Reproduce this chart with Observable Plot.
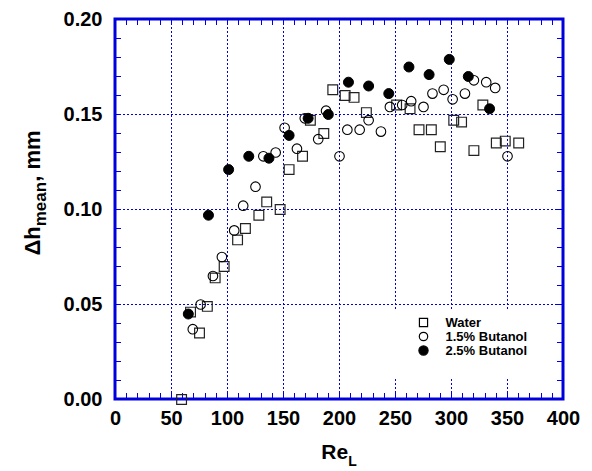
<!DOCTYPE html>
<html><head><meta charset="utf-8">
<script src="https://cdn.jsdelivr.net/npm/d3@7"></script>
<script src="https://cdn.jsdelivr.net/npm/@observablehq/plot@0.6"></script>
<style>html,body{margin:0;padding:0;background:#fff}#chart{width:592px;height:471px}</style>
</head><body><div id="chart"></div>
<script>
// ---- data ----
const waterRe = [59,67,75,82,89,97,109,116,128,135,147,155,167,174,186,194,205,213,224,251,263,271,282,290,302,309,320,328,340,348,360];
const waterDh = [0.000,0.046,0.035,0.049,0.064,0.070,0.084,0.090,0.097,0.104,0.100,0.121,0.128,0.147,0.140,0.163,0.160,0.159,0.151,0.155,0.153,0.142,0.142,0.133,0.147,0.146,0.131,0.155,0.135,0.136,0.135];
const but15Re = [69,76,87,95,106,114,125,132,143,151,162,169,181,188,200,207,218,226,237,245,256,264,275,283,293,301,312,320,331,339,350];
const but15Dh = [0.037,0.050,0.065,0.075,0.089,0.102,0.112,0.128,0.130,0.143,0.132,0.148,0.137,0.152,0.128,0.142,0.142,0.147,0.141,0.154,0.155,0.157,0.154,0.161,0.163,0.158,0.161,0.168,0.167,0.164,0.128];
const but25Re = [65,83,101,119,137,155,172,190,208,226,244,262,280,298,315,334];
const but25Dh = [0.045,0.097,0.121,0.128,0.127,0.139,0.148,0.150,0.167,0.165,0.161,0.175,0.171,0.179,0.170,0.153];
const seriesNames = ["Water", "1.5% Butanol", "2.5% Butanol"];
const xTicks = [0,50,100,150,200,250,300,350,400];
const yTicks = [0.00,0.05,0.10,0.15,0.20];
const xGrid = [50,100,150,200,250,300,350];
const yGrid = [0.05,0.10,0.15];
const xMinor = d3.range(0, 401, 10);
const yMinor = d3.range(0, 21).map(i => i / 100);

// ---- build ----
const toRows = (xs, ys, s) => xs.map((x, i) => ({Re: x, dh: ys[i], series: s}));
const water = toRows(waterRe, waterDh, seriesNames[0]);
const but15 = toRows(but15Re, but15Dh, seriesNames[1]);
const but25 = toRows(but25Re, but25Dh, seriesNames[2]);

const BLUE = "#0000dd";
const FONT = "'Liberation Sans', Arial, Helvetica, sans-serif";

function richLabel(parts, place) {
  return (index, scales, values, dims) => {
    const p = place(dims);
    const t = d3.create("svg:text")
      .attr("transform", `translate(${p.x},${p.y}) rotate(${p.rotate || 0})`)
      .attr("text-anchor", "middle")
      .attr("font-family", FONT)
      .attr("font-weight", "bold")
      .attr("fill", "black");
    for (const part of parts) {
      const ts = t.append("tspan").attr("font-size", part.size).text(part.text);
      if (part.dy) ts.attr("dy", part.dy);
    }
    return t.node();
  };
}

function line(g, x1, y1, x2, y2, w, dash) {
  const l = g.append("line").attr("x1", x1).attr("y1", y1).attr("x2", x2).attr("y2", y2)
    .attr("stroke", BLUE).attr("stroke-width", w).style("stroke", BLUE);
  if (dash) l.attr("stroke-dasharray", dash);
  return l;
}

// dotted grid lines through the x/y scales
function gridLines() {
  return (index, scales, values, dims) => {
    const L = dims.marginLeft, R = dims.width - dims.marginRight;
    const T = dims.marginTop, B = dims.height - dims.marginBottom;
    const px = v => Math.round(scales.x(v)) + 0.5;
    const py = v => Math.round(scales.y(v)) + 0.5;
    const g = d3.create("svg:g").attr("fill", "none");
    for (const v of xGrid) line(g, px(v), T, px(v), B, 1, "2,2");
    for (const v of yGrid) line(g, L, py(v), R, py(v), 1, "2,2");
    return g.node();
  };
}

// inward minor ticks on all four sides plus the blue frame
function frameAndTicks() {
  return (index, scales, values, dims) => {
    const L = dims.marginLeft, R = dims.width - dims.marginRight;
    const T = dims.marginTop, B = dims.height - dims.marginBottom;
    const px = v => Math.round(scales.x(v)) + 0.5;
    const py = v => Math.round(scales.y(v)) + 0.5;
    const g = d3.create("svg:g").attr("fill", "none");
    const len = 6;
    for (const v of xMinor) {
      line(g, px(v), B, px(v), B - len, 1);
      line(g, px(v), T, px(v), T + len, 1);
    }
    for (const v of yMinor) {
      line(g, L, py(v), L + len, py(v), 1);
      line(g, R, py(v), R - len, py(v), 1);
    }
    g.append("rect").attr("x", L).attr("y", T).attr("width", R - L).attr("height", B - T)
      .attr("fill", "none").attr("stroke", BLUE).attr("stroke-width", 3).style("stroke", BLUE);
    return g.node();
  };
}

function legendBox() {
  return (index, scales, values, dims) => {
    const right = dims.width - dims.marginRight;
    const bottom = dims.height - dims.marginBottom;
    return d3.create("svg:rect")
      .attr("x", right - 173).attr("y", bottom - 89)
      .attr("width", 165).attr("height", 67)
      .attr("fill", "white").node();
  };
}

const legendRows = [
  {name: seriesNames[0], symbol: "square", fill: "none", r: 4.6, dy: -77},
  {name: seriesNames[1], symbol: "circle", fill: "none", r: 4.2, dy: -63},
  {name: seriesNames[2], symbol: "circle", fill: "black", r: 4.6, dy: -49}
];

const legendMarks = legendRows.flatMap(row => [
  Plot.dot([row.name], {frameAnchor: "bottom-right", dx: -140, dy: row.dy, symbol: row.symbol, r: row.r,
    stroke: "black", strokeWidth: 1.2, fill: row.fill}),
  Plot.text([row.name], {frameAnchor: "bottom-right", dx: -118, dy: row.dy, text: d => d, textAnchor: "start",
    lineAnchor: "middle", fontSize: 13, fontWeight: "bold", fill: "black"})
]);

const chart = Plot.plot({
  width: 592, height: 471,
  marginLeft: 115, marginRight: 29, marginTop: 19, marginBottom: 72,
  x: {domain: [0, 400], axis: null},
  y: {domain: [0, 0.2], axis: null},
  style: {fontFamily: FONT, background: "white", color: "black", overflow: "visible"},
  marks: [
    gridLines(),
    legendBox(),
    Plot.axisX({anchor: "bottom", ticks: xTicks, tickSize: 0, tickPadding: 11, tickFormat: d => String(d),
      fontSize: 20, fontWeight: "bold", fill: "black", label: null}),
    Plot.axisY({anchor: "left", ticks: yTicks, tickSize: 0, tickPadding: 13, tickFormat: d3.format(".2f"),
      fontSize: 20, fontWeight: "bold", fill: "black", label: null}),
    frameAndTicks(),
    Plot.dot(water, {x: "Re", y: "dh", symbol: "square", r: 5.5, stroke: "#222", strokeWidth: 1.2, fill: "none"}),
    Plot.dot(but15, {x: "Re", y: "dh", symbol: "circle", r: 4.8, stroke: "black", strokeWidth: 1.1, fill: "none"}),
    Plot.dot(but25, {x: "Re", y: "dh", symbol: "circle", r: 5, stroke: "black", strokeWidth: 1, fill: "black"}),
    ...legendMarks,
    richLabel([{text: "Δh", size: 22}, {text: "mean", size: 17, dy: 6}, {text: ", mm", size: 22, dy: -6}],
      d => ({x: 40, y: 193, rotate: -90})),
    richLabel([{text: "Re", size: 21}, {text: "L", size: 14, dy: 7}],
      d => ({x: (d.marginLeft + d.width - d.marginRight) / 2, y: 459}))
  ]
});
document.getElementById("chart").appendChild(chart);
</script>
</body></html>
